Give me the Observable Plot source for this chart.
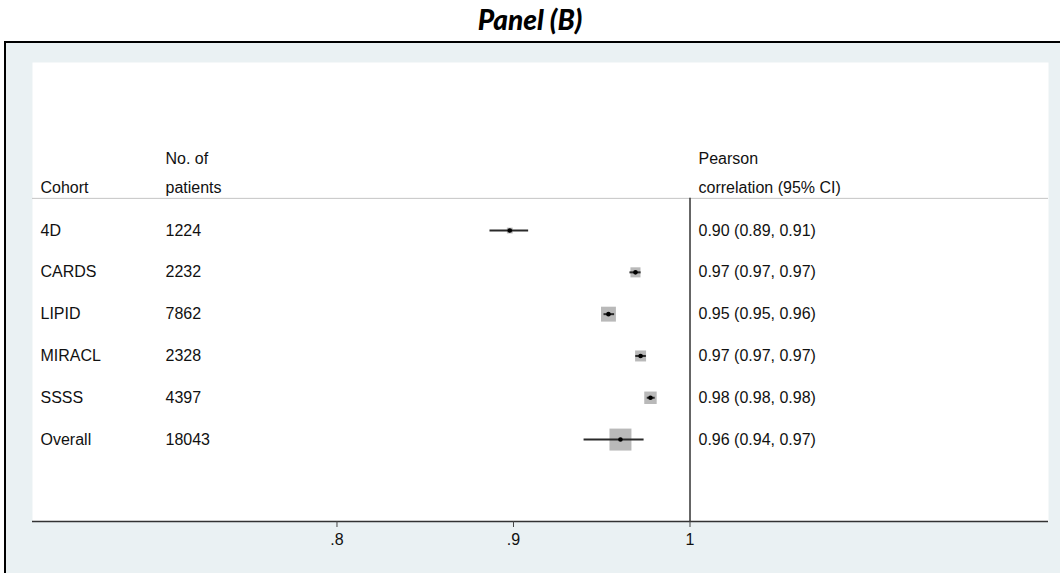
<!DOCTYPE html>
<html>
<head>
<meta charset="utf-8">
<script src="https://cdn.jsdelivr.net/npm/d3@7"></script>
<script src="https://cdn.jsdelivr.net/npm/@observablehq/plot@0.6"></script>
<style>
  html, body { margin: 0; padding: 0; background: #ffffff; width: 1060px; height: 573px; overflow: hidden; }
  #title { position: absolute; left: 0; top: 0; width: 1060px; height: 42px; text-align: center;
           font-family: Lato, "Open Sans", sans-serif; font-weight: 900; font-style: italic; font-size: 28px;
           line-height: 38px; color: #000; }
  #frame { position: absolute; left: 4px; top: 41px; width: 1100px; height: 600px;
           border-left: 2px solid #000; border-top: 2px solid #000; background: #eaf1f3; }
  #chart { position: absolute; left: 0; top: 42px; }
  #chart svg { background: transparent; }
</style>
</head>
<body>
<div id="title">Panel (B)</div>
<div id="frame"></div>
<div id="chart"></div>
<script>
// ---- data ----
const cohorts   = ["4D", "CARDS", "LIPID", "MIRACL", "SSSS", "Overall"];
const patients  = [1224, 2232, 7862, 2328, 4397, 18043];
const estimate  = [0.8979, 0.9691, 0.9538, 0.9720, 0.9776, 0.9606];
const ciLow     = [0.8864, 0.9657, 0.9510, 0.9690, 0.9755, 0.9397];
const ciHigh    = [0.9083, 0.9720, 0.9570, 0.9750, 0.9800, 0.9737];
const boxWeight = [7, 21, 46, 25, 32, 100];
const ciLabels  = ["0.90 (0.89, 0.91)", "0.97 (0.97, 0.97)", "0.95 (0.95, 0.96)",
                   "0.97 (0.97, 0.97)", "0.98 (0.98, 0.98)", "0.96 (0.94, 0.97)"];
const tickValues = [0.8, 0.9, 1];
const tickLabels = [".8", ".9", "1"];

const rows = cohorts.map((c, i) => ({
  cohort: c, n: patients[i], est: estimate[i], lo: ciLow[i], hi: ciHigh[i],
  w: boxWeight[i], label: ciLabels[i], row: i
}));

const Y_TOP = -4.02, Y_BOT = 6.96;
const FONT = "Liberation Sans, Arial, sans-serif";
const fs = 16;

const plot = Plot.plot({
  width: 1060,
  height: 531,
  marginLeft: 32,
  marginRight: 12,
  marginTop: 20,
  marginBottom: 52,
  style: { fontFamily: FONT, background: "transparent", overflow: "visible" },
  x: { domain: [0.6275, 1.2031], axis: null },
  y: { domain: [Y_TOP, Y_BOT], reverse: true, axis: null },
  r: { type: "sqrt", domain: [0, 100], range: [0, 12.4] },
  marks: [
    Plot.frame({ fill: "#ffffff", stroke: null }),
    // separator under header
    Plot.ruleY([-0.77], { stroke: "#c4c4c4", strokeWidth: 1 }),
    // reference line at 1
    Plot.ruleX([1], { y1: -0.77, y2: Y_BOT, stroke: "#333", strokeWidth: 1.5 }),
    // header texts
    Plot.text(["No. of"], { frameAnchor: "left", y: -1.72, dx: 133, textAnchor: "start", fontSize: fs, fill: "#111" }),
    Plot.text(["Cohort"], { frameAnchor: "left", y: -1.03, dx: 8, textAnchor: "start", fontSize: fs, fill: "#111" }),
    Plot.text(["patients"], { frameAnchor: "left", y: -1.03, dx: 133, textAnchor: "start", fontSize: fs, fill: "#111" }),
    Plot.text(["Pearson"], { x: 1, y: -1.72, dx: 8.5, textAnchor: "start", fontSize: fs, fill: "#111" }),
    Plot.text(["correlation (95% CI)"], { x: 1, y: -1.03, dx: 8.5, textAnchor: "start", fontSize: fs, fill: "#111" }),
    // row texts
    Plot.text(rows, { frameAnchor: "left", y: "row", text: "cohort", dx: 8, textAnchor: "start", fontSize: fs, fill: "#111" }),
    Plot.text(rows, { frameAnchor: "left", y: "row", text: d => String(d.n), dx: 133, textAnchor: "start", fontSize: fs, fill: "#111" }),
    Plot.text(rows, { x: 1, y: "row", text: "label", dx: 8.5, textAnchor: "start", fontSize: fs, fill: "#111" }),
    // weight boxes
    Plot.dot(rows, { x: "est", y: "row", r: "w", symbol: "square", fill: "#b9b9b9", stroke: null }),
    // confidence intervals
    Plot.link(rows, { x1: "lo", x2: "hi", y1: "row", y2: "row", stroke: "#2a2a2a", strokeWidth: 2 }),
    // point estimates
    Plot.dot(rows, { x: "est", y: "row", r: 2.3, fill: "#000", stroke: null }),
    // x axis
    Plot.ruleY([Y_BOT], { stroke: "#333", strokeWidth: 1.5 }),
    Plot.axisX({ ticks: tickValues, tickFormat: d => tickLabels[tickValues.indexOf(d)],
                 tickSize: 6, tickPadding: 6, fontSize: 16, stroke: "#444", color: "#111",
                 label: null, anchor: "bottom" })
  ]
});
document.getElementById("chart").appendChild(plot);
</script>
</body>
</html>
